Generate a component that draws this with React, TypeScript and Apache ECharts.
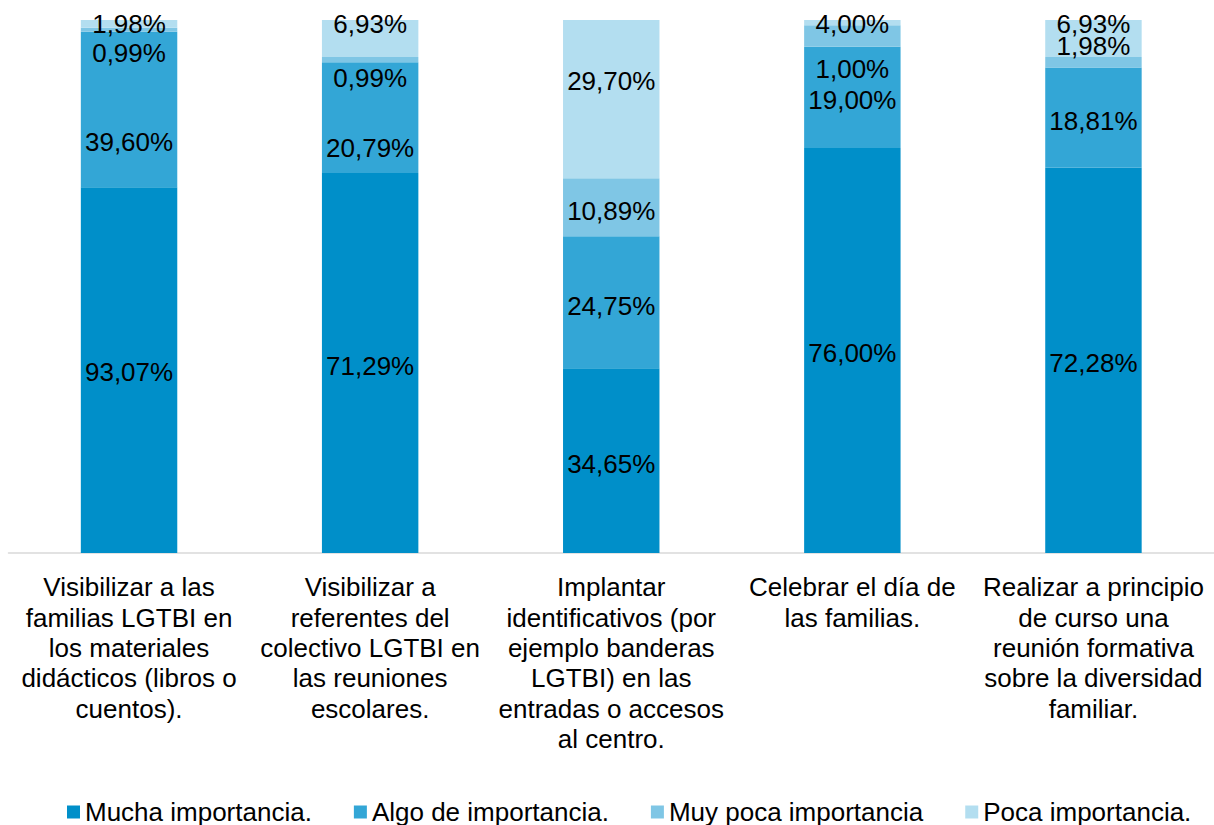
import React, { useEffect, useRef } from "react";
import * as echarts from "echarts";

const categories = [
  "Visibilizar a las\nfamilias LGTBI en\nlos materiales\ndidácticos (libros o\ncuentos).",
  "Visibilizar a\nreferentes del\ncolectivo LGTBI en\nlas reuniones\nescolares.",
  "Implantar\nidentificativos (por\nejemplo banderas\nLGTBI) en las\nentradas o accesos\nal centro.",
  "Celebrar el día de\nlas familias.",
  "Realizar a principio\nde curso una\nreunión formativa\nsobre la diversidad\nfamiliar.",
];

const seriesNames = [
  "Mucha importancia.",
  "Algo de importancia.",
  "Muy poca importancia",
  "Poca importancia.",
];

const mucha = [93.07, 71.29, 34.65, 76.0, 72.28];
const algo = [39.6, 20.79, 24.75, 19.0, 18.81];
const muyPoca = [0.99, 0.99, 10.89, 4.0, 1.98];
const poca = [1.98, 6.93, 29.7, 1.0, 6.93];

const colors = ["#008FC9", "#33A6D6", "#7FC6E5", "#B3DEF0"];

// vertical nudges of the data labels (px), as placed in the reference
const labelNudges = [
  [2, 3, 3, 3, 3],
  [33, 30, 4, 3, 3],
  [23, 18, 4, -12, -16],
  [0, -14, -18, 46, -14],
];

const FONT = "'Liberation Sans', Arial, sans-serif";

export default function App() {
  const ref = useRef<HTMLDivElement>(null);

  useEffect(() => {
    if (!ref.current) return;
    const chart = echarts.init(ref.current, null, { renderer: "svg" });
    const all = [mucha, algo, muyPoca, poca];
    const totals = categories.map((_, i) => all.reduce((s, arr) => s + arr[i], 0));
    const fmt = (v: number) => v.toFixed(2).replace(".", ",") + "%";

    const series = all.map((arr, si) => ({
      name: seriesNames[si],
      type: "bar",
      stack: "total",
      barWidth: "40%",
      itemStyle: { color: colors[si] },
      data: arr.map((v, i) => ({
        value: (v / totals[i]) * 100,
        raw: v,
        label: { offset: [0, labelNudges[si][i]] },
      })),
      label: {
        show: true,
        position: "inside",
        color: "#000",
        fontSize: 26,
        fontFamily: FONT,
        formatter: (p: any) => fmt(p.data.raw),
      },
    }));

    chart.setOption({
      animation: false,
      textStyle: { fontFamily: FONT },
      grid: { left: 8.5, right: -6, top: 20, bottom: 272 },
      legend: {
        left: 62,
        top: 794,
        itemWidth: 13,
        itemHeight: 13,
        itemGap: 42,
        icon: "rect",
        textStyle: { fontSize: 26, color: "#000", fontFamily: FONT },
        data: seriesNames,
      },
      xAxis: {
        type: "category",
        data: categories,
        axisTick: { show: false },
        axisLine: { lineStyle: { color: "#D9D9D9", width: 1.5 } },
        axisLabel: {
          interval: 0,
          fontSize: 26,
          lineHeight: 30.4,
          color: "#000",
          margin: 19,
          fontFamily: FONT,
        },
      },
      yAxis: { type: "value", min: 0, max: 100, show: false },
      series,
    });
    return () => chart.dispose();
  }, []);

  return (
    <div
      ref={ref}
      style={{ position: "absolute", left: 0, top: 0, width: 1214, height: 825 }}
    />
  );
}
